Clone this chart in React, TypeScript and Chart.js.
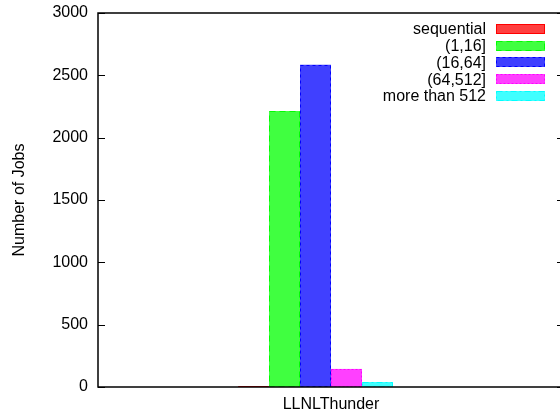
import React, { useEffect, useRef } from "react";
import { Chart, registerables } from "chart.js";

Chart.register(...registerables);

// ---- data ----
const categories = ["LLNLThunder"];
const seriesNames = ["sequential", "(1,16]", "(16,64]", "(64,512]", "more than 512"];
const sequentialJobs = [4];
const jobs1to16 = [2213];
const jobs16to64 = [2585];
const jobs64to512 = [145];
const jobsMoreThan512 = [40];
const yTickValues = [0, 500, 1000, 1500, 2000, 2500, 3000];
const yTitle = "Number of Jobs";

const seriesValues = [sequentialJobs, jobs1to16, jobs16to64, jobs64to512, jobsMoreThan512];
const fillColors = [
  "rgb(255,64,64)",
  "rgb(64,255,64)",
  "rgb(64,64,255)",
  "rgb(255,64,255)",
  "rgb(64,255,255)",
];
const edgeColors = ["#ff0000", "#00ff00", "#0000ff", "#ff00ff", "#00ffff"];
const edgeDashes: number[][] = [[], [6, 4], [3, 3], [2, 2], [6, 3, 2, 3]];

const FONT = "'Liberation Sans', Arial, Helvetica, sans-serif";

const decorPlugin = {
  id: "gnuplotDecor",
  afterDatasetsDraw(chart: any) {
    const ctx = chart.ctx as CanvasRenderingContext2D;
    const area = chart.chartArea;

    // dashed bar borders
    chart.data.datasets.forEach((ds: any, i: number) => {
      if (ds.spacer) return;
      const meta = chart.getDatasetMeta(i);
      meta.data.forEach((bar: any) => {
        const p = bar.getProps(["x", "y", "base", "width"], true);
        if (p.y == null || isNaN(p.y)) return;
        const l = Math.round(p.x - p.width / 2);
        const r = Math.round(p.x + p.width / 2);
        const t = Math.round(p.y);
        const b = Math.round(p.base);
        ctx.save();
        ctx.strokeStyle = ds.edgeColor;
        ctx.lineWidth = 1;
        ctx.setLineDash(ds.edgeDash);
        ctx.strokeRect(l + 0.5, Math.min(t, b - 1) + 0.5, r - l - 1, Math.max(b - t - 1, 0));
        ctx.restore();
      });
    });

    // frame
    ctx.save();
    ctx.strokeStyle = "#000";
    ctx.lineWidth = 1.5;
    ctx.strokeRect(area.left, area.top, area.right - area.left, area.bottom - area.top);

    // inward ticks on both sides
    const ys = chart.scales.y;
    ctx.lineWidth = 1;
    yTickValues.forEach((v) => {
      const py = Math.round(ys.getPixelForValue(v)) + 0.5;
      ctx.beginPath();
      ctx.moveTo(area.left, py);
      ctx.lineTo(area.left + 7, py);
      ctx.moveTo(area.right - 7, py);
      ctx.lineTo(area.right, py);
      ctx.stroke();
    });

    // gnuplot-style key: text then sample box, top right inside
    ctx.font = `16px ${FONT}`;
    ctx.textAlign = "right";
    ctx.textBaseline = "middle";
    let row = 0;
    chart.data.datasets.forEach((ds: any) => {
      if (ds.spacer) return;
      const cy = area.top + 16 + row * 16.7;
      ctx.fillStyle = "#000";
      ctx.fillText(ds.label, area.right - 78, cy + 1);
      const bx = area.right - 68;
      const bw = 49;
      const by = Math.round(cy - 5);
      ctx.fillStyle = ds.backgroundColor;
      ctx.fillRect(bx, by, bw, 10);
      ctx.save();
      ctx.strokeStyle = ds.edgeColor;
      ctx.setLineDash(ds.edgeDash);
      ctx.lineWidth = 1;
      ctx.strokeRect(bx + 0.5, by + 0.5, bw - 1, 9);
      ctx.restore();
      row++;
    });
    ctx.restore();
  },
};

export default function App() {
  const canvasRef = useRef<HTMLCanvasElement | null>(null);

  useEffect(() => {
    if (!canvasRef.current) return;
    const datasets: any[] = seriesNames.map((name, i) => ({
      label: name,
      data: seriesValues[i],
      backgroundColor: fillColors[i],
      borderWidth: 0,
      edgeColor: edgeColors[i],
      edgeDash: edgeDashes[i],
    }));
    // empty slot so the cluster sits like gnuplot's (shifted half a bar left)
    datasets.push({ label: "", data: [null], spacer: true, backgroundColor: "transparent" });

    const chart = new Chart(canvasRef.current, {
      type: "bar",
      data: { labels: categories, datasets },
      options: {
        responsive: false,
        animation: false,
        devicePixelRatio: 1,
        categoryPercentage: 0.399,
        barPercentage: 1,
        layout: { padding: { top: 13, right: 8, left: 0, bottom: 0 } },
        plugins: {
          legend: { display: false },
          tooltip: { enabled: false },
        },
        scales: {
          x: {
            type: "category",
            grid: { display: false, drawTicks: false },
            border: { display: false },
            ticks: { color: "#000", font: { family: FONT, size: 16 }, padding: 8 },
            afterFit: (s: any) => {
              s.height = 31;
              s.paddingLeft = 0;
              s.paddingRight = 0;
            },
          },
          y: {
            min: 0,
            max: 3000,
            grid: { display: false, drawTicks: false },
            border: { display: false },
            ticks: {
              stepSize: 500,
              color: "#000",
              font: { family: FONT, size: 16 },
              padding: 10,
              callback: (v: any) => String(v),
            },
            title: {
              display: true,
              text: yTitle,
              color: "#000",
              font: { family: FONT, size: 16 },
              padding: { top: 10, bottom: 0 },
            },
            afterFit: (s: any) => {
              s.width = 98;
              s.paddingTop = 0;
              s.paddingBottom = 0;
            },
          },
        },
      } as any,
      plugins: [decorPlugin],
    });
    return () => chart.destroy();
  }, []);

  return (
    <div
      style={{
        position: "fixed",
        left: 0,
        top: 0,
        width: 560,
        height: 418,
        overflow: "hidden",
        background: "#fff",
      }}
    >
      <canvas
        ref={canvasRef}
        width={572}
        height={418}
        style={{ display: "block", width: 572, height: 418 }}
      />
    </div>
  );
}
